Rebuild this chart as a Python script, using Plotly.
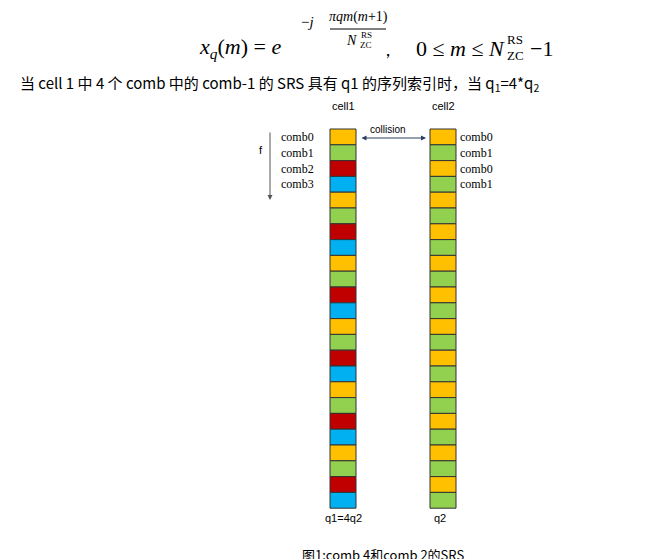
import plotly.graph_objects as go

# cell colours per column (top to bottom)
palette = {"comb0": "#FFC000", "comb1": "#92D050", "comb2": "#C00000", "comb3": "#00B0F0"}
cell1_combs = ["comb0", "comb1", "comb2", "comb3"] * 6
cell2_combs = ["comb0", "comb1"] * 12
cell1_labels = ["comb0", "comb1", "comb2", "comb3"]
cell2_labels = ["comb0", "comb1", "comb0", "comb1"]

W, H = 672, 559
top, ch = 121, 15.8
x1, x2, cw = 322, 422, 26

fig = go.Figure()
shapes = []
for col_x, combs in [(x1, cell1_combs), (x2, cell2_combs)]:
    for i, c in enumerate(combs):
        shapes.append(dict(type="rect", x0=col_x, x1=col_x + cw, y0=top + i * ch, y1=top + (i + 1) * ch,
                           fillcolor=palette[c], line=dict(color="#333333", width=1)))
# fraction bar in formula
shapes.append(dict(type="line", x0=322, x1=378, y0=21, y1=21, line=dict(color="black", width=1)))

serif = "Liberation Serif"
ann = []
def t(x, y, s, size=12, font="Arial", xa="center", color="black"):
    ann.append(dict(x=x, y=y, text=s, showarrow=False, xanchor=xa, yanchor="middle",
                    font=dict(family=font, size=size, color=color)))

# formula
t(232, 40, "<i>x<sub>q</sub></i>(<i>m</i>) = <i>e</i>", 22, serif)
t(299, 14, "−<i>j</i>", 15, serif)
t(350, 9, "<i>πqm</i>(<i>m</i>+1)", 14, serif)
t(343, 32, "<i>N</i>", 14, serif)
t(358, 27, "RS", 9, serif)
t(358, 37, "ZC", 9, serif)
t(380, 42, "，", 18, serif)
t(452, 40, "0 ≤ <i>m</i> ≤ <i>N</i>", 22, serif)
t(507, 31, "RS", 13, serif)
t(507, 47, "ZC", 13, serif)
t(533, 40, "−1", 22, serif)

t(10, 75, "当 cell 1 中 4 个 comb 中的 comb-1 的 SRS 具有 q1 的序列索引时，当 q<sub>1</sub>=4*q<sub>2</sub>",
  15, "Noto Sans CJK SC", xa="left")

t(335, 98, "cell1", 11)
t(435, 98, "cell2", 11)
t(380, 121, "collision", 10)
t(253, 142, "f", 11)
for i, s in enumerate(cell1_labels):
    t(308, top + (i + 0.5) * ch, s, 12, serif, xa="right")
for i, s in enumerate(cell2_labels):
    t(450, top + (i + 0.5) * ch, s, 12, serif, xa="left")
t(335, 510, "q1=4q2", 11)
t(432, 510, "q2", 11)
t(375, 546, "图1:comb 4和comb 2的SRS", 13, "Noto Sans CJK SC")

# arrows
ann.append(dict(x=418, y=130, ax=352, ay=130, xref="x", yref="y", axref="x", ayref="y",
                showarrow=True, arrowhead=2, arrowside="end+start", arrowwidth=1, text=""))
ann.append(dict(x=262, y=192, ax=262, ay=123, xref="x", yref="y", axref="x", ayref="y",
                showarrow=True, arrowhead=2, arrowwidth=1, text="", arrowcolor="#555"))

fig.update_layout(width=W, height=H, margin=dict(l=0, r=0, t=0, b=0, autoexpand=False),
                  paper_bgcolor="white", plot_bgcolor="white",
                  shapes=shapes, annotations=ann, showlegend=False,
                  xaxis=dict(range=[0, W], visible=False, fixedrange=True),
                  yaxis=dict(range=[H, 0], visible=False, fixedrange=True))
fig.write_html("out.html")
